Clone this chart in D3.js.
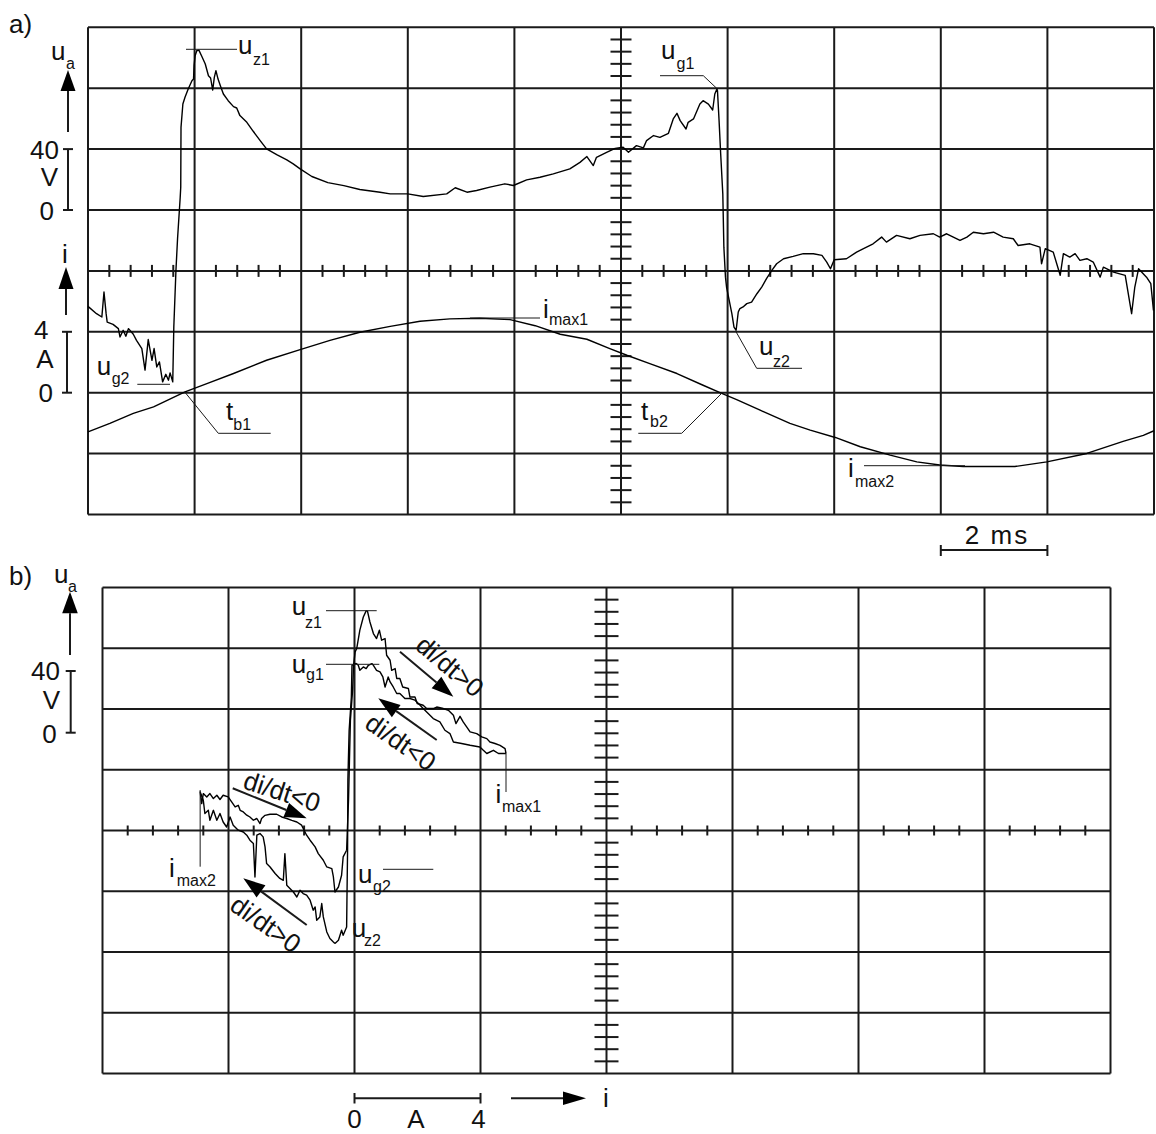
<!DOCTYPE html>
<html>
<head>
<meta charset="utf-8">
<script src="https://cdn.jsdelivr.net/npm/d3@7"></script>
<style>
  body { margin: 0; background: #fff; }
  svg { display: block; }
  text { font-family: "Liberation Sans", Arial, sans-serif; fill: #111; }
</style>
</head>
<body>
<svg id="chart" width="1156" height="1134"></svg>
<script>
// ---------- data ----------
// Oscillogram a): arc voltage u_a [V] and current i [A] against time [ms]
const timeGridMs = d3.range(0, 20.001, 2);
const voltGrid = d3.range(-200, 120.001, 40);
const ampGridB = d3.range(-8, 24.001, 4);

const uaTime = [
  [0,-63.3],[0.16,-68.1],[0.26,-70.3],[0.30,-53.9],[0.34,-68.1],[0.36,-73.6],[0.47,-75.1],[0.57,-77.9],
  [0.60,-83.4],[0.66,-79.0],[0.71,-82.9],[0.76,-77.9],[0.85,-81.6],[0.91,-85.6],[1.01,-91.0],[1.07,-105.2],
  [1.13,-85.1],[1.20,-98.7],[1.24,-91.0],[1.29,-103.1],[1.34,-99.8],[1.40,-112.9],[1.46,-107.9],[1.51,-111.8],
  [1.54,-107.0],[1.59,-112.9],[1.61,-76.9],[1.65,-39.7],[1.68,-18.9],[1.73,8.4],[1.74,15.0],[1.745,54.3],
  [1.78,69.6],[1.82,74.0],[1.88,79.5],[1.95,84.9],[1.98,86.0],[1.99,94.8],[2.01,101.3],[2.04,104.6],
  [2.08,105.0],[2.13,101.3],[2.20,95.9],[2.26,88.2],[2.30,86.7],[2.34,78.8],[2.37,87.1],[2.40,91.5],
  [2.44,86.0],[2.49,81.0],[2.54,76.2],[2.63,71.8],[2.73,67.9],[2.79,67.0],[2.85,62.0],[2.98,57.6],
  [3.10,51.7],[3.23,45.6],[3.35,40.1],[3.54,36.4],[3.73,32.9],[3.85,30.3],[3.98,27.0],[4.2,22.0],
  [4.5,18.0],[4.8,16.0],[5.1,13.5],[5.48,11.7],[5.67,10.6],[6.00,10.6],[6.29,8.9],[6.73,10.6],
  [6.89,14.6],[7.11,11.7],[7.29,12.8],[7.54,15.0],[7.82,17.2],[7.98,16.1],[8.23,19.8],[8.48,21.5],
  [8.73,23.7],[9.04,27.0],[9.23,31.3],[9.36,35.1],[9.48,29.2],[9.54,34.6],[9.73,37.9],[9.89,40.5],
  [10.04,41.2],[10.14,37.9],[10.29,42.3],[10.42,40.8],[10.48,45.6],[10.61,48.9],[10.73,47.7],[10.89,50.4],
  [10.98,59.8],[11.05,63.5],[11.11,58.7],[11.22,53.2],[11.26,57.6],[11.36,59.8],[11.48,69.6],[11.54,71.8],
  [11.64,69.6],[11.72,65.7],[11.76,76.2],[11.80,79.5],[11.81,78.4],[11.84,58.7],[11.87,36.9],[11.91,10.6],
  [11.93,-24.4],[11.96,-44.1],[11.98,-50.6],[12.03,-59.3],[12.08,-68.1],[12.12,-76.9],[12.16,-79.0],[12.20,-67.0],
  [12.23,-64.8],[12.29,-63.7],[12.36,-61.5],[12.45,-60.5],[12.55,-55.0],[12.64,-50.6],[12.73,-45.1],[12.83,-39.7],
  [12.92,-35.3],[13.05,-32.0],[13.23,-30.5],[13.42,-28.7],[13.61,-28.7],[13.77,-29.8],[13.86,-34.2],[13.93,-38.6],
  [14.0,-32.7],[14.23,-32.0],[14.42,-27.7],[14.55,-25.4],[14.73,-22.2],[14.89,-17.8],[14.98,-21.1],[15.17,-16.7],
  [15.42,-18.9],[15.61,-16.7],[15.86,-15.6],[15.98,-17.8],[16.11,-15.6],[16.36,-20.0],[16.49,-17.8],[16.61,-14.6],
  [16.80,-15.6],[16.99,-14.6],[17.17,-17.8],[17.36,-18.9],[17.45,-23.3],[17.67,-22.2],[17.86,-24.4],[17.89,-35.3],
  [17.96,-25.4],[18.11,-27.7],[18.24,-42.9],[18.30,-28.7],[18.42,-30.9],[18.52,-28.7],[18.61,-33.1],[18.74,-32.0],
  [18.86,-34.2],[18.99,-44.1],[19.05,-37.5],[19.24,-40.8],[19.46,-42.9],[19.58,-68.1],[19.64,-50.6],[19.71,-38.6],
  [19.86,-44.1],[19.94,-48.4],[19.99,-66.0]
];

const iTime = [
  [0,-2.57],[0.41,-2.02],[0.85,-1.36],[1.23,-0.93],[1.82,0.05],[2.23,0.60],[2.73,1.26],[3.35,2.13],
  [3.98,2.83],[4.54,3.44],[5.10,3.97],[5.67,4.36],[6.23,4.69],[6.79,4.85],[7.35,4.89],[7.92,4.80],
  [8.39,4.40],[8.86,3.84],[9.36,3.51],[9.79,2.90],[10.11,2.46],[10.54,1.91],[11.05,1.26],[11.54,0.49],
  [11.89,-0.05],[12.17,-0.45],[12.61,-1.15],[13.17,-2.02],[13.55,-2.46],[14.02,-2.94],[14.49,-3.55],[15.05,-4.10],
  [15.55,-4.54],[15.98,-4.75],[16.42,-4.85],[17.39,-4.85],[17.99,-4.54],[18.74,-3.99],[19.42,-3.20],[19.80,-2.80],
  [20.0,-2.50]
];

// Characteristic b): u_a [V] against i [A], one closed cycle
const loopDrop = [   // u_g1 -> u_z2 at the second current zero
  [0.05,70.1],[-0.08,68.8],[-0.10,47.7],[-0.17,26.0],[-0.21,-6.9],[-0.22,-53.0],[-0.24,-85.9],[-0.25,-103.5],
  [-0.36,-109.0],[-0.41,-105.7],[-0.51,-112.3],[-0.62,-114.4]
];
const loopNegOut = [ // u_z2 -> i_max2
  [-0.62,-114.4],[-0.67,-113.4],[-0.78,-111.1],[-0.88,-106.8],[-0.99,-96.9],[-1.04,-88.1],[-1.10,-96.9],[-1.20,-99.1],
  [-1.25,-90.3],[-1.31,-92.5],[-1.41,-85.9],[-1.52,-82.6],[-1.63,-81.5],[-1.73,-79.3],[-1.83,-83.8],[-1.94,-80.5],
  [-2.05,-78.2],[-2.15,-76.1],[-2.21,-55.2],[-2.26,-72.8],[-2.37,-71.6],[-2.52,-68.3],[-2.68,-64.0],[-2.79,-61.8],
  [-2.84,-50.8],[-2.90,-44.2],[-3.00,-42.0],[-3.10,-43.1],[-3.16,-70.6],[-3.21,-48.6],[-3.32,-46.4],[-3.42,-43.1],
  [-3.53,-41.0],[-3.69,-39.8],[-3.85,-36.5],[-3.95,-31.1],[-4.06,-37.7],[-4.17,-34.4],[-4.27,-28.8],[-4.37,-33.3],
  [-4.48,-26.7],[-4.59,-33.3],[-4.64,-26.7],[-4.75,-28.8],[-4.80,-20.1],[-4.88,-15.7]
];
const loopNegBack = [ // i_max2 -> u_g2
  [-4.88,-15.7],[-4.90,-14.6],[-4.85,-22.3],[-4.80,-15.7],[-4.69,-17.9],[-4.59,-15.7],[-4.48,-19.0],[-4.37,-16.8],
  [-4.27,-19.6],[-4.17,-16.8],[-4.01,-17.9],[-3.90,-21.2],[-3.79,-24.5],[-3.69,-23.4],[-3.63,-26.7],[-3.53,-27.8],
  [-3.42,-29.9],[-3.32,-31.1],[-3.21,-33.2],[-3.10,-32.1],[-3.00,-35.4],[-2.95,-32.1],[-2.84,-30.0],[-2.68,-29.3],
  [-2.47,-29.3],[-2.31,-31.1],[-2.15,-32.1],[-1.99,-33.3],[-1.83,-34.4],[-1.68,-36.5],[-1.60,-39.8],[-1.52,-43.1],
  [-1.41,-46.4],[-1.25,-50.8],[-1.15,-55.2],[-0.99,-59.6],[-0.88,-64.0],[-0.72,-65.1],[-0.67,-70.6],[-0.62,-80.5],
  [-0.51,-77.2],[-0.41,-69.5],[-0.36,-57.4],[-0.25,-53.0]
];
const loopRise = [   // u_g2 -> u_z1 at the first current zero
  [-0.25,-53.0],[-0.19,-20.1],[-0.16,6.3],[-0.13,32.6],[-0.06,52.3],[-0.03,68.8],[0.02,77.6],[0.07,79.8],
  [0.17,91.9],[0.28,100.6],[0.37,104.6],[0.41,104.6]
];
const loopPosOut = [ // u_z1 -> i_max1
  [0.41,104.6],[0.49,97.3],[0.60,89.7],[0.70,86.4],[0.79,91.9],[0.86,85.3],[0.97,86.4],[1.02,75.4],
  [1.13,72.1],[1.18,65.5],[1.29,66.6],[1.34,60.1],[1.44,60.1],[1.53,54.5],[1.71,53.5],[1.76,47.9],
  [1.92,47.9],[1.99,43.6],[2.18,42.5],[2.29,40.3],[2.50,40.3],[2.61,41.3],[2.82,40.3],[2.98,39.2],
  [3.14,35.9],[3.22,30.4],[3.35,35.2],[3.45,31.5],[3.56,28.2],[3.67,24.9],[3.88,23.8],[4.04,21.6],
  [4.20,20.5],[4.30,18.3],[4.46,17.3],[4.62,16.1],[4.78,13.9],[4.81,10.7]
];
const loopPosBack = [ // i_max1 -> u_g1
  [4.81,10.7],[4.57,10.7],[4.41,12.8],[4.20,10.7],[4.09,12.8],[3.98,15.0],[3.67,16.1],[3.40,17.3],
  [3.14,18.3],[3.03,23.8],[2.87,26.0],[2.71,31.5],[2.50,33.7],[2.34,37.0],[2.18,40.3],[2.03,43.6],
  [1.92,45.8],[1.76,46.9],[1.60,46.9],[1.44,50.2],[1.34,50.2],[1.23,54.5],[1.13,57.8],[1.07,61.1],
  [0.97,54.5],[0.90,61.1],[0.81,64.4],[0.70,65.5],[0.60,68.8],[0.55,69.9],[0.44,68.8],[0.37,66.6],
  [0.28,67.7],[0.17,65.5],[0.12,68.8],[0.05,70.1]
];

// ---------- layout ----------
const svg = d3.select("#chart");
const INK = "#1a1a1a";

const tA = d3.scaleLinear().domain([0, 20]).range([88, 1154]);
const uA = d3.scaleLinear().domain([-200, 120]).range([514.5, 27.3]);
const iA = d3.scaleLinear().domain([-8, 24]).range([514.5, 27.3]);

const iB = d3.scaleLinear().domain([-8, 24]).range([102.5, 1110.5]);
const uB = d3.scaleLinear().domain([-200, 120]).range([1073.5, 587.5]);

// graticule with the centre cross carrying the fine divisions
function graticule(g, xs, ys, xMajor, yMajor, xStep, yStep, xc, yc, hLen, vLen) {
  const [x0, x1] = xs.range(), [y0, y1] = ys.range();
  g.selectAll("line.v").data(xMajor).join("line")
    .attr("x1", d => xs(d)).attr("x2", d => xs(d)).attr("y1", y0).attr("y2", y1)
    .attr("stroke", INK).attr("stroke-width", 2);
  g.selectAll("line.h").data(yMajor).join("line")
    .attr("y1", d => ys(d)).attr("y2", d => ys(d)).attr("x1", x0).attr("x2", x1)
    .attr("stroke", INK).attr("stroke-width", 2);
  const xd = xs.domain(), yd = ys.domain();
  const xMinor = d3.range(xd[0], xd[1] + 1e-9, xStep).filter(v => Math.abs(v / (xStep * 5) - Math.round(v / (xStep * 5))) > 1e-6);
  const yMinor = d3.range(yd[0], yd[1] + 1e-9, yStep).filter(v => Math.abs(v / (yStep * 5) - Math.round(v / (yStep * 5))) > 1e-6);
  g.append("g").selectAll("line").data(xMinor).join("line")
    .attr("x1", d => xs(d)).attr("x2", d => xs(d))
    .attr("y1", ys(yc) - vLen).attr("y2", ys(yc) + vLen)
    .attr("stroke", INK).attr("stroke-width", 2);
  g.append("g").selectAll("line").data(yMinor).join("line")
    .attr("y1", d => ys(d)).attr("y2", d => ys(d))
    .attr("x1", xs(xc) - hLen).attr("x2", xs(xc) + hLen)
    .attr("stroke", INK).attr("stroke-width", 2);
}

const gA = svg.append("g");
graticule(gA, tA, uA, timeGridMs, voltGrid, 0.4, 8, 10, -40, 10.5, 6);
const gB = svg.append("g");
graticule(gB, iB, uB, ampGridB, voltGrid, 0.8, 8, 8, -40, 12, 5);

// traces
const lineA_u = d3.line().x(d => tA(d[0])).y(d => uA(d[1]));
const lineA_i = d3.line().x(d => tA(d[0])).y(d => iA(d[1]));
const lineB = d3.line().x(d => iB(d[0])).y(d => uB(d[1]));

const traceStyle = sel => sel.attr("fill", "none").attr("stroke", "#000")
  .attr("stroke-width", 1.4).attr("stroke-linejoin", "round");

svg.append("path").datum(uaTime).attr("d", lineA_u).call(traceStyle);
svg.append("path").datum(iTime).attr("d", lineA_i).call(traceStyle);
[loopDrop, loopNegOut, loopNegBack, loopRise, loopPosOut, loopPosBack].forEach(seg =>
  svg.append("path").datum(seg).attr("d", lineB).call(traceStyle));

// ---------- annotations ----------
const ann = svg.append("g");
const MAIN = 26, SUB = 16;

function txt(x, y, s, size = MAIN, anchor = "start", extra) {
  const t = ann.append("text").attr("x", x).attr("y", y).attr("font-size", size)
    .attr("text-anchor", anchor).text(s);
  if (extra) extra(t);
  return t;
}
function symbol(x, y, main, sub, sx, sy) {
  txt(x, y, main);
  txt(sx, sy, sub, SUB);
}
function seg(pts, w = 1) {
  ann.append("path").attr("d", d3.line()(pts)).attr("fill", "none")
    .attr("stroke", INK).attr("stroke-width", w);
}
function arrow(x1, y1, x2, y2, len = 22, half = 7.5, w = 2) {
  const a = Math.atan2(y2 - y1, x2 - x1);
  const bx = x2 - len * Math.cos(a), by = y2 - len * Math.sin(a);
  seg([[x1, y1], [bx, by]], w);
  const px = -Math.sin(a) * half, py = Math.cos(a) * half;
  ann.append("path").attr("d", `M${x2},${y2}L${bx + px},${by + py}L${bx - px},${by - py}Z`).attr("fill", "#000");
}
function bracket(x, yTop, yBot, half) {
  seg([[x - half, yTop], [x + half, yTop]], 2);
  seg([[x, yTop], [x, yBot]], 2);
  seg([[x - half, yBot], [x + half, yBot]], 2);
}
function rotText(x, y, angle, s) {
  ann.append("text").attr("font-size", 26)
    .attr("transform", `translate(${x},${y}) rotate(${angle})`).text(s);
}

// panel a) labels and scale marks
txt(9, 33, "a)");
symbol(51, 60, "u", "a", 66, 69);
arrow(68, 132, 68, 70, 21, 7.5);
txt(59, 159, "40", MAIN, "end");
bracket(68, uA(40), uA(0), 5);
txt(49.5, 186, "V", MAIN, "middle");
txt(54, 220, "0", MAIN, "end");

txt(62, 263, "i");
arrow(66, 315, 66, 267, 22, 7.5);
txt(48.5, 339, "4", MAIN, "end");
bracket(67, iA(4), iA(0), 5);
txt(45, 368, "A", MAIN, "middle");
txt(53, 402, "0", MAIN, "end");

seg([[186, 49.3], [237, 49.3]]);
symbol(238, 53.5, "u", "z1", 253, 65);
seg([[660, 75.7], [703.3, 75.7], [716.7, 88.3]]);
symbol(661, 59, "u", "g1", 676.5, 69);
seg([[736, 331.7], [756.7, 368.3], [802, 368.3]]);
symbol(759, 355, "u", "z2", 773, 366.5);
seg([[721.7, 393.3], [681.7, 433.3], [638.3, 433.3]]);
symbol(641, 420, "t", "b2", 650, 427);
seg([[185, 392.3], [218.3, 433.3], [270.7, 433.3]]);
symbol(226, 420, "t", "b1", 233.3, 430);
seg([[137.3, 384.3], [170, 384.3]]);
symbol(96.7, 375, "u", "g2", 111.7, 384);
seg([[470, 318], [540, 318]]);
symbol(543, 318, "i", "max1", 549, 325);
seg([[864, 465.7], [965, 465.7]]);
symbol(848, 477, "i", "max2", 855, 487);

// time base
txt(997, 544, "2 ms", MAIN, "middle", t => t.attr("letter-spacing", 2));
seg([[tA(16), 550], [tA(18), 550]], 2);
seg([[tA(16), 545], [tA(16), 556]], 2);
seg([[tA(18), 545], [tA(18), 556]], 2);

// panel b) labels and scale marks
txt(9, 585, "b)");
symbol(54, 583, "u", "a", 68, 592);
arrow(70, 655, 70, 591.7, 21.5, 7.8);
txt(60, 680, "40", MAIN, "end");
bracket(70.7, 671, 732.7, 5);
txt(51.5, 709, "V", MAIN, "middle");
txt(56.7, 743, "0", MAIN, "end");

seg([[326, 610.7], [376.7, 610.7]]);
symbol(291.7, 615, "u", "z1", 305, 628);
seg([[326, 664.3], [379.3, 664.3]]);
symbol(291.7, 673, "u", "g1", 306, 680);
seg([[iB(4.81), 753.3], [iB(4.81), 792]]);
symbol(495.5, 803, "i", "max1", 502, 812);
seg([[iB(-4.9), 790], [iB(-4.9), 866.7]]);
symbol(169, 877, "i", "max2", 176.7, 886);
seg([[383, 869.3], [433.3, 869.3]]);
symbol(358, 883, "u", "g2", 373, 892);
symbol(351.7, 936.7, "u", "z2", 364, 946);

rotText(414, 648, 40, "di/dt>0");
arrow(400, 651.7, 453.3, 696.7);
rotText(363.3, 727, 35, "di/dt<0");
arrow(436.7, 740, 378.3, 698.3);
rotText(241.7, 788, 18, "di/dt<0");
arrow(232.7, 788.3, 306.7, 818.3);
rotText(228.3, 909, 35, "di/dt>0");
arrow(306.7, 925, 243.3, 878.3);

// current scale and axis direction
seg([[iB(0), 1098.3], [iB(4), 1098.3]], 2);
seg([[iB(0), 1093], [iB(0), 1103.5]], 2);
seg([[iB(4), 1093], [iB(4), 1103.5]], 2);
txt(iB(0), 1127.5, "0", MAIN, "middle");
txt(416, 1127.5, "A", MAIN, "middle");
txt(iB(4) - 2, 1127.5, "4", MAIN, "middle");
arrow(511, 1098.3, 586, 1098.3, 23, 6.7);
txt(603, 1106.5, "i");
</script>
</body>
</html>
